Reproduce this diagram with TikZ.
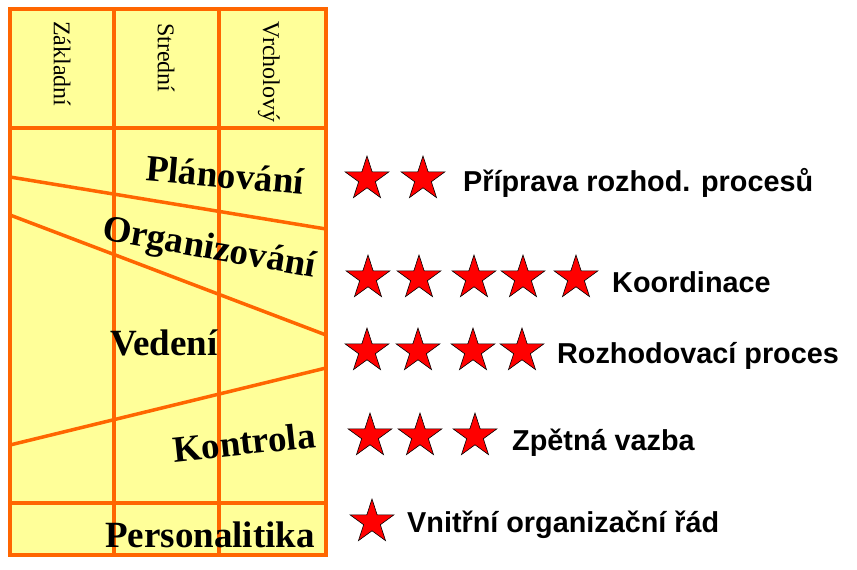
\documentclass[tikz,border=0pt]{standalone}
\usepackage{fontspec}
\setmainfont{Liberation Serif}
\newfontfamily\arialfont{Liberation Sans}
\usepackage{xcolor}
\usetikzlibrary{positioning, shapes.geometric}

\definecolor{gridline}{RGB}{255,102,0}
\definecolor{gridfill}{RGB}{255,255,153}

\begin{document}
\begin{tikzpicture}[
        x=1pt, y=-1pt,
        grid/.style = {
            draw=gridline,
            line width=3.5pt
        },
        heading/.style = {
            rotate=-90,
            anchor=west,
            inner sep=0pt,
            font=\fontsize{24}{26}\selectfont
        },
        func/.style = {
            inner sep=0pt,
            font=\fontsize{37}{40}\selectfont\bfseries
        },
        redstar/.style = {
            star,
            star points=5,
            star point ratio=2.618,
            minimum size=46pt,
            inner sep=0pt,
            fill=red,
            draw=black,
            line width=0.6pt
        },
        note/.style = {
            anchor=base west,
            inner sep=0pt,
            font=\arialfont\fontsize{28.8}{30}\selectfont\bfseries
        }
    ]

    \useasboundingbox (0,0) rectangle (857,570);

    % Table
    \fill[gridfill] (10,9) rectangle (326,555);
    \draw[grid] (114,9) -- (114,555);
    \draw[grid] (219,9) -- (219,555);
    \draw[grid] (10,128) -- (326,128);
    \draw[grid] (10,503) -- (328,503);
    \draw[grid] (10,177) -- (326,229);
    \draw[grid] (10,215) -- (326,335);
    \draw[grid] (10,445) -- (326,368);
    \draw[grid] (10,9) rectangle (326,555);

    % Levels
    \node[heading] (zakl) at (62,21)  {Základní};
    \node[heading] (stred) at (166,23) {Strední};
    \node[heading] (vrch) at (269,21) {Vrcholový};

    % Functions
    \node[func, rotate=-5]  (plan)  at (225,175) {Plánování};
    \node[func, rotate=-10] (org)   at (209,250) {Organizování};
    \node[func, anchor=base] (ved)  at (164,355) {Vedení};
    \node[func, rotate=6]   (kontr) at (244,442) {Kontrola};
    \node[func, anchor=base] (pers) at (210,547) {Personalitika};

    % Stars
    \node[redstar] (a1) at (367,179) {};
    \node[redstar] (a2) at ([xshift=56pt]a1) {};

    \node[redstar] (b1) at (368,278) {};
    \node[redstar] (b2) at ([xshift=51pt]b1) {};
    \node[redstar] (b3) at ([xshift=55pt]b2) {};
    \node[redstar] (b4) at ([xshift=49pt]b3) {};
    \node[redstar] (b5) at ([xshift=53pt]b4) {};

    \node[redstar] (c1) at (367,351) {};
    \node[redstar] (c2) at ([xshift=51pt]c1) {};
    \node[redstar] (c3) at ([xshift=55pt]c2) {};
    \node[redstar] (c4) at ([xshift=49pt]c3) {};

    \node[redstar] (d1) at (370,436) {};
    \node[redstar] (d2) at ([xshift=50pt]d1) {};
    \node[redstar] (d3) at ([xshift=55pt]d2) {};

    \node[redstar] (e1) at (372,522) {};

    % Labels
    \node[note] (priprava) at (463,191) {Příprava rozhod. procesů};
    \node[note] (koord)    at (612,292) {Koordinace};
    \node[note] (rozhod)   at (557,363) {Rozhodovací proces};
    \node[note] (zpetna)   at (512,450) {Zpětná vazba};
    \node[note] (vnitrni)  at (407,532) {Vnitřní organizační řád};

\end{tikzpicture}
\end{document}
